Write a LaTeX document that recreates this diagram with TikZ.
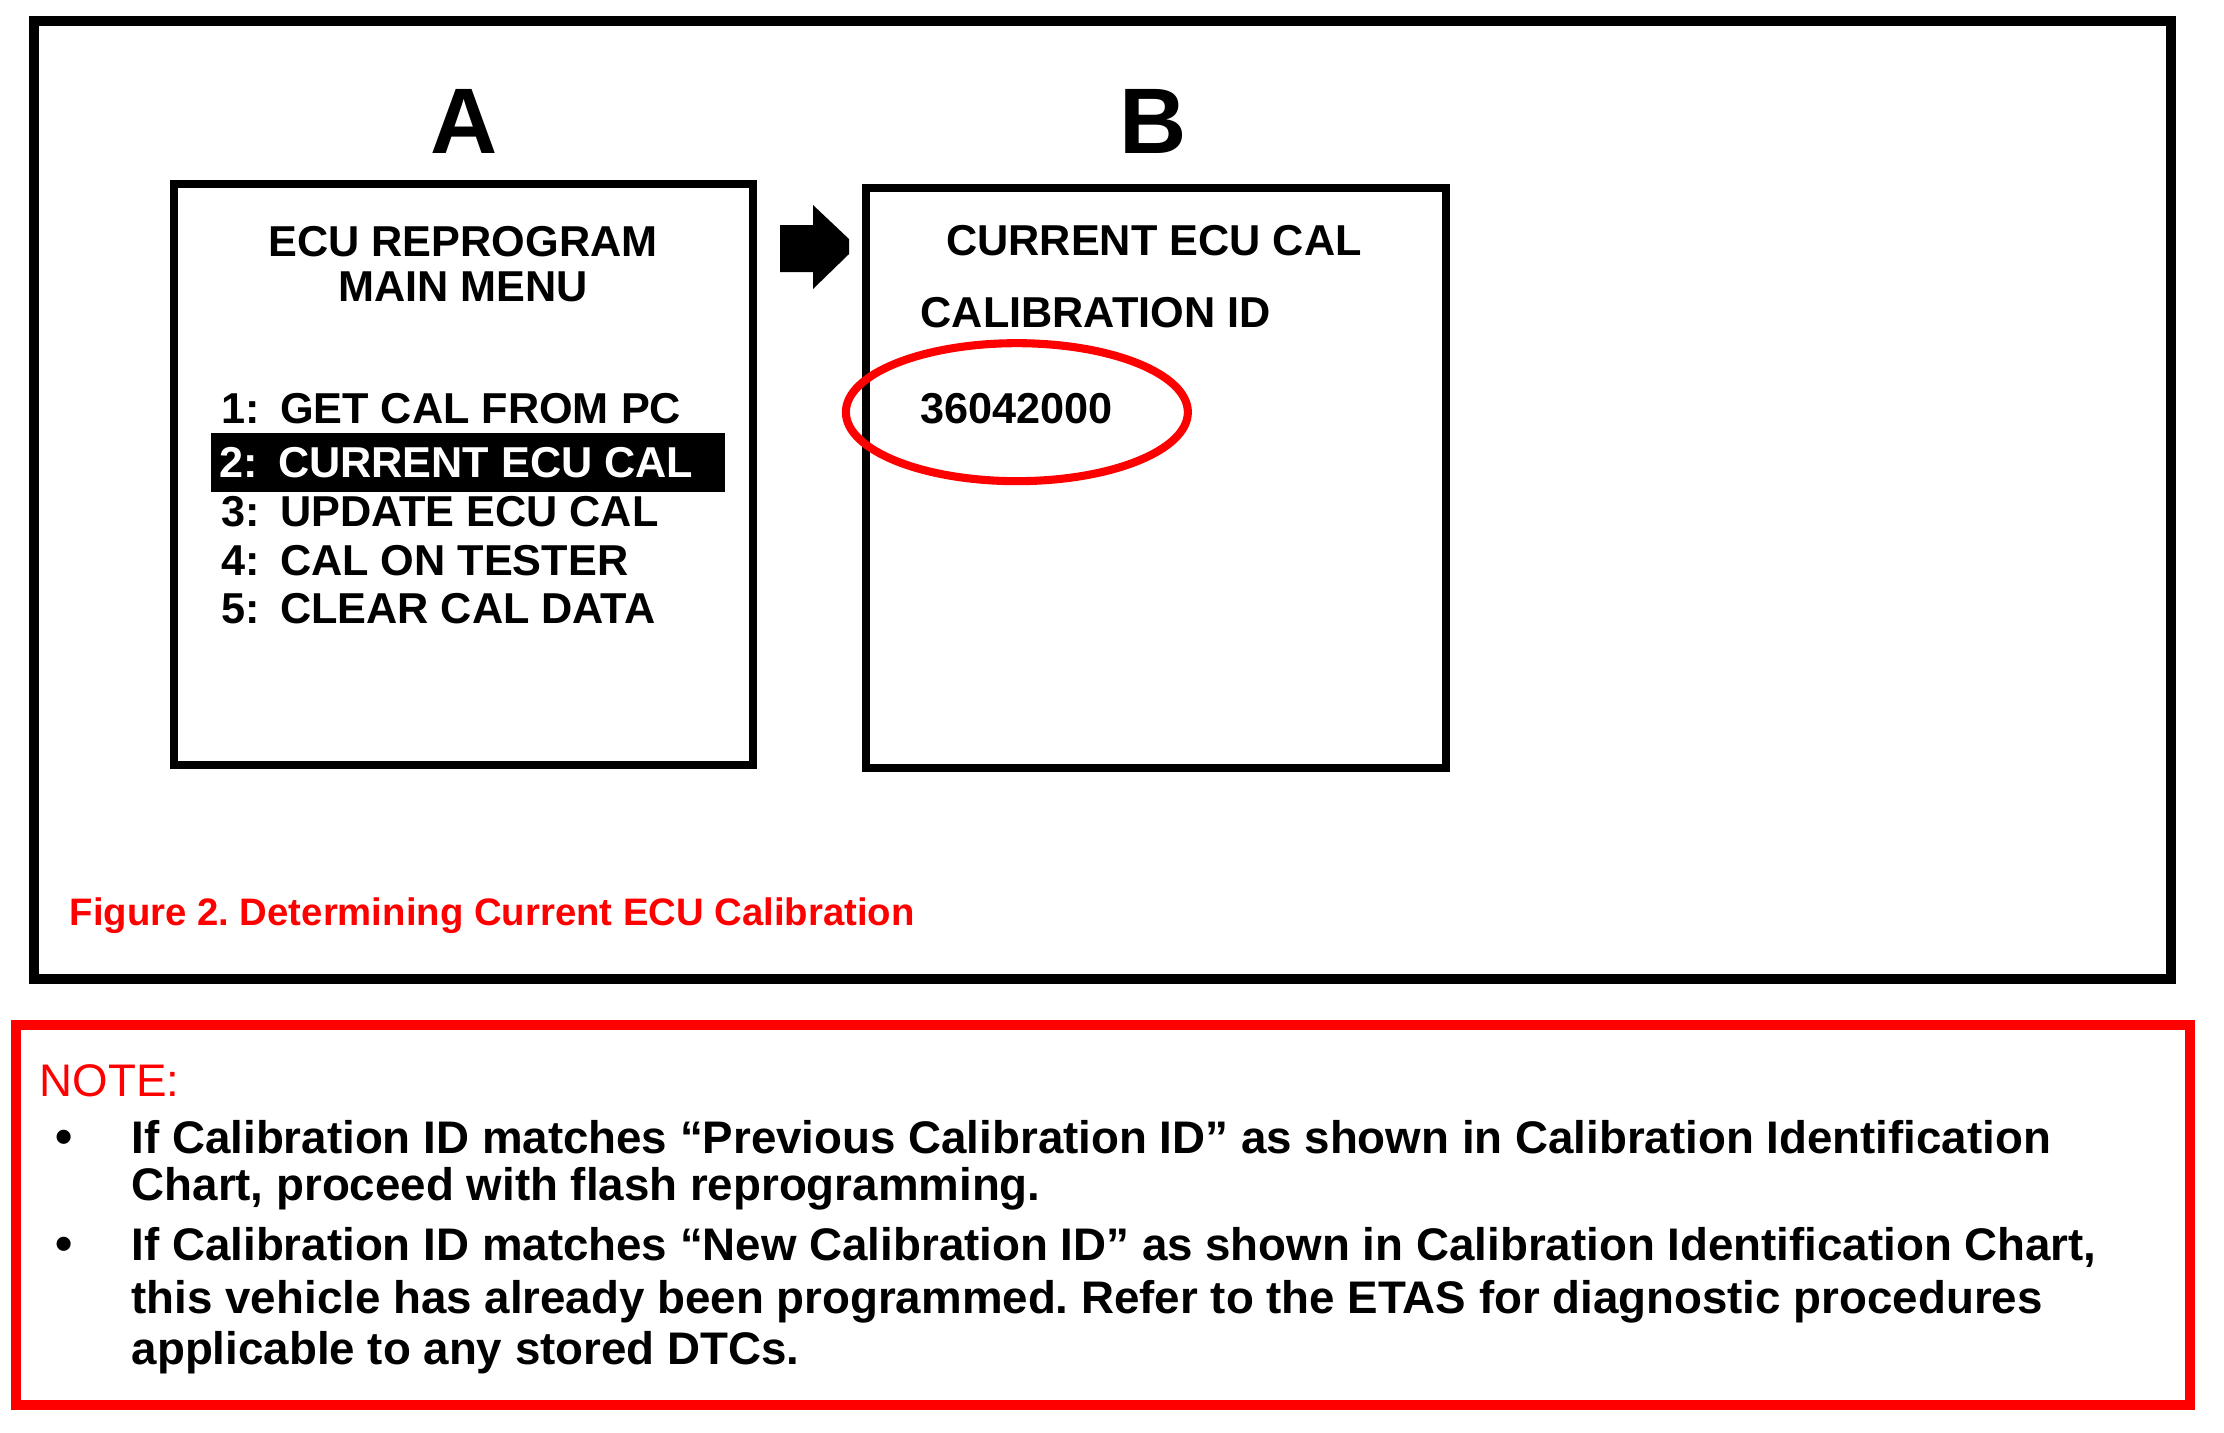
\documentclass[tikz,border=0pt]{standalone}
\usepackage{fontspec}
\setmainfont{Liberation Sans}
\frenchspacing
\usetikzlibrary{positioning}
\definecolor{noteRed}{RGB}{255,0,0}
\definecolor{scrInk}{RGB}{0,0,0}
\newcommand{\itemgap}{\hspace{0.46em}}

\begin{document}
\begin{tikzpicture}[
  x=0.1mm, y=-0.1mm,
  screen/.style ={draw=scrInk, line width=2.3pt, fill=white, inner sep=0pt},
  scrtxt/.style ={font=\fontsize{12.3}{14}\selectfont\bfseries, text=scrInk, inner sep=0pt},
  letter/.style ={font=\fontsize{26.5}{30}\selectfont\bfseries, inner sep=0pt, anchor=base},
  hlbar/.style  ={fill=scrInk, inner sep=0pt},
  ring/.style   ={draw=noteRed, line width=2.3pt},
  notetxt/.style={font=\fontsize{13}{15}\selectfont\bfseries, inner sep=0pt, anchor=base west},
  bul/.style    ={font=\fontsize{14}{15}\selectfont\bfseries, inner sep=0pt, anchor=base west},
]
\fill[white] (0,0) rectangle (2224,1432);
\useasboundingbox (0,0) rectangle (2224,1432);

% ============ FIGURE FRAME ============
\draw[line width=2.6pt] (34,21) rectangle (2171,979);

\node[letter] (letA) at (464,153) {A};
\node[letter] (letB) at (1153,153) {B};

% ============ SCREEN A : main menu ============
\node[screen, minimum width=57.9mm, minimum height=58.1mm] (scrA) at (463.5,474.5) {};

\node[scrtxt, anchor=base] (titA1) at (463,256) {ECU REPROGRAM};
\node[scrtxt, anchor=base] (titA2) at (463,301) {MAIN MENU};

\node[hlbar, minimum width=51.4mm, minimum height=5.9mm] (bar) at (468,462.5) {};

\node[scrtxt, anchor=base west] (item1) at (221,423) {1:\itemgap GET CAL FROM PC};
\node[scrtxt, anchor=base west, text=white] (item2) at (219,477) {2:\itemgap CURRENT ECU CAL};
\node[scrtxt, anchor=base west] (item3) at (221,526) {3:\itemgap UPDATE ECU CAL};
\node[scrtxt, anchor=base west] (item4) at (221,575) {4:\itemgap CAL ON TESTER};
\node[scrtxt, anchor=base west] (item5) at (221,623) {5:\itemgap CLEAR CAL DATA};

% block arrow between the screens
\fill[scrInk] (780,225) -- (813,225) -- (813,205) -- (849,239) -- (849,254)
  -- (813,289) -- (813,272) -- (780,272) -- cycle;

% ============ SCREEN B : current cal ============
\node[screen, minimum width=58.0mm, minimum height=58.0mm] (scrB) at (1156,478) {};

\node[scrtxt, anchor=base] (titB) at (1154,255) {CURRENT ECU CAL};
\node[scrtxt, anchor=base west] (calid) at (920,327) {CALIBRATION ID};
\node[scrtxt, anchor=base west] (idnum) at (920,423) {36042000};

\draw[ring] ([yshift=-0.4mm]idnum.center) ellipse [x radius=17.1mm, y radius=6.9mm];

\node[anchor=base west, inner sep=0pt, text=noteRed, font=\fontsize{10.9}{13}\selectfont\bfseries]
  (cap) at (69,925) {Figure 2. Determining Current ECU Calibration};

% ============ NOTE BOX ============
\draw[draw=noteRed, line width=2.6pt] (16,1025) rectangle (2190,1405);

\node[anchor=base west, inner sep=0pt, text=noteRed, font=\fontsize{13}{15}\selectfont]
  (note) at (39,1096) {NOTE:};

\node[bul] (bul1) at (55,1153) {•};
\node[notetxt] (l1a) at (131,1153) {If Calibration ID matches “Previous Calibration ID” as shown in Calibration Identification};
\node[notetxt] (l1b) at (131,1200) {Chart, proceed with flash reprogramming.};

\node[bul] (bul2) at (55,1260) {•};
\node[notetxt] (l2a) at (131,1260) {If Calibration ID matches “New Calibration ID” as shown in Calibration Identification Chart,};
\node[notetxt] (l2b) at (131,1313) {this vehicle has already been programmed. Refer to the ETAS for diagnostic procedures};
\node[notetxt] (l2c) at (131,1364) {applicable to any stored DTCs.};

\end{tikzpicture}
\end{document}
